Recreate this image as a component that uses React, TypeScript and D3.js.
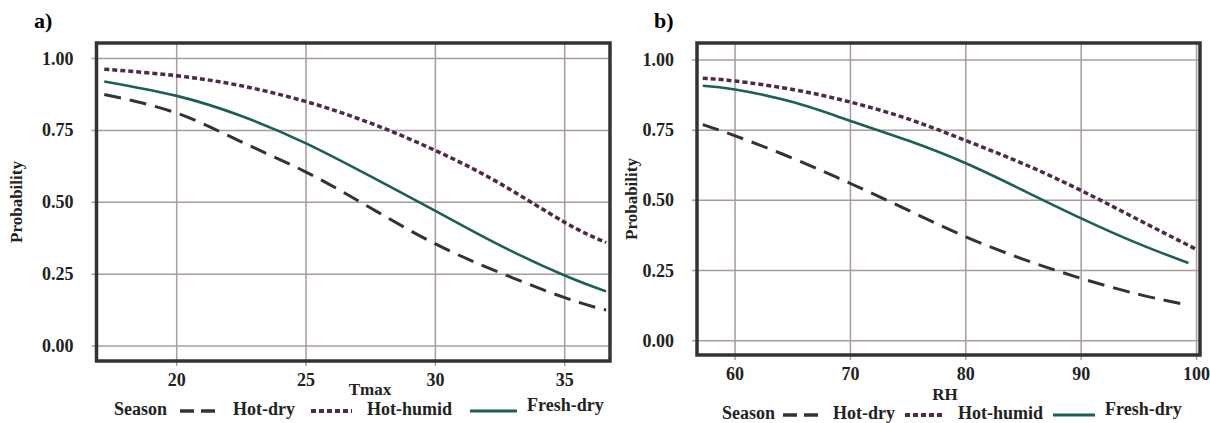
import React from 'react';
import * as d3 from 'd3';

// panel a: probability vs Tmax
const tmaxX = [17.2, 20, 22.5, 25, 27.5, 30, 32.5, 35, 36.6];
const tmaxHotDry = [0.875, 0.81, 0.71, 0.605, 0.48, 0.355, 0.255, 0.168, 0.125];
const tmaxHotHumid = [0.963, 0.94, 0.905, 0.85, 0.775, 0.68, 0.565, 0.43, 0.36];
const tmaxFreshDry = [0.92, 0.87, 0.8, 0.705, 0.59, 0.47, 0.35, 0.245, 0.19];
const tmaxTicks = [20, 25, 30, 35];

// panel b: probability vs RH
const rhX = [57.2, 60, 65, 70, 75, 80, 85, 90, 95, 99.3];
const rhHotDry = [0.77, 0.73, 0.65, 0.56, 0.465, 0.37, 0.29, 0.222, 0.165, 0.127];
const rhHotHumidX = [57.2, 60, 65, 70, 75, 80, 85, 90, 95, 100];
const rhHotHumid = [0.935, 0.925, 0.895, 0.85, 0.79, 0.713, 0.63, 0.535, 0.43, 0.325];
const rhFreshDry = [0.908, 0.895, 0.85, 0.783, 0.713, 0.632, 0.535, 0.436, 0.345, 0.277];
const rhTicks = [60, 70, 80, 90, 100];

const probTicks = [0, 0.25, 0.5, 0.75, 1];
const seasons = ['Hot-dry', 'Hot-humid', 'Fresh-dry'];

const FONT = '"Liberation Serif", "Times New Roman", serif';
const styles: Record<string, { stroke: string; width: number; dash: string }> = {
  'Hot-dry': { stroke: '#333333', width: 3, dash: '17 9' },
  'Hot-humid': { stroke: '#4e2a48', width: 3.5, dash: '5 3' },
  'Fresh-dry': { stroke: '#1b5f57', width: 2.6, dash: '' },
};

type Series = { name: string; xs: number[]; ys: number[] };

type PanelProps = {
  tag: string;
  xLabel: string;
  xDomain: [number, number];
  xRange: [number, number];
  yRange: [number, number];
  frame: { top: number; bottom: number };
  xTicks: number[];
  series: Series[];
  tickBase: number;
  xLabelPos: [number, number];
  yLabelX: number;
  tagPos: [number, number];
  legend: { y: number; season: number; items: [number, number, number][] };
};

function Panel(p: PanelProps) {
  const x = d3.scaleLinear().domain(p.xDomain).range(p.xRange);
  const y = d3.scaleLinear().domain([0, 1]).range(p.yRange);
  const [left, right] = p.xRange;
  const { top, bottom } = p.frame;
  const grid = '#a99c9c';
  const mkLine = (xs: number[]) =>
    d3
      .line<number>()
      .x((_, i) => x(xs[i]))
      .y(d => y(d))
      .curve(d3.curveNatural);

  return (
    <g>
      <text x={p.tagPos[0]} y={p.tagPos[1]} fontFamily={FONT} fontWeight="bold" fontSize={22}>
        {p.tag}
      </text>
      {probTicks.map(t => (
        <g key={'y' + t}>
          <line x1={left - 5} x2={right} y1={y(t)} y2={y(t)} stroke={grid} strokeWidth={1.5} />
          <text
            x={left - 23}
            y={y(t) + 6}
            textAnchor="end"
            fontFamily={FONT}
            fontWeight="bold"
            fontSize={18}
            fill="#222"
          >
            {t.toFixed(2)}
          </text>
        </g>
      ))}
      {p.xTicks.map(t => (
        <g key={'x' + t}>
          <line x1={x(t)} x2={x(t)} y1={top} y2={bottom + 5} stroke={grid} strokeWidth={1.5} />
          <text
            x={x(t)}
            y={p.tickBase}
            textAnchor="middle"
            fontFamily={FONT}
            fontWeight="bold"
            fontSize={18}
            fill="#222"
          >
            {t}
          </text>
        </g>
      ))}
      {p.series.map(s => (
        <path
          key={s.name}
          d={mkLine(s.xs)(s.ys) || ''}
          fill="none"
          stroke={styles[s.name].stroke}
          strokeWidth={styles[s.name].width}
          strokeDasharray={styles[s.name].dash}
        />
      ))}
      <rect
        x={left}
        y={top}
        width={right - left}
        height={bottom - top}
        fill="none"
        stroke="#333"
        strokeWidth={3.5}
      />
      <text
        transform={`translate(${p.yLabelX},${(top + bottom) / 2}) rotate(-90)`}
        textAnchor="middle"
        fontFamily={FONT}
        fontWeight="bold"
        fontSize={17}
        fill="#222"
      >
        Probability
      </text>
      <text
        x={p.xLabelPos[0]}
        y={p.xLabelPos[1]}
        textAnchor="middle"
        fontFamily={FONT}
        fontWeight="bold"
        fontSize={17}
        fill="#222"
      >
        {p.xLabel}
      </text>
      <text x={p.legend.season} y={p.legend.y} fontFamily={FONT} fontWeight="bold" fontSize={18} fill="#222">
        Season
      </text>
      {seasons.map((name, i) => {
        const [x0, x1, tx] = p.legend.items[i];
        const st = styles[name];
        return (
          <g key={name}>
            <line
              x1={x0}
              x2={x1}
              y1={p.legend.y - 4}
              y2={p.legend.y - 4}
              stroke={st.stroke}
              strokeWidth={st.width + 0.5}
              strokeDasharray={name === 'Hot-dry' ? '14 7' : st.dash}
            />
            <text
              x={tx}
              y={p.legend.y - (name === 'Fresh-dry' ? 4 : 0)}
              fontFamily={FONT}
              fontWeight="bold"
              fontSize={18}
              fill="#222"
            >
              {name}
            </text>
          </g>
        );
      })}
    </g>
  );
}

export default function App() {
  return (
    <svg
      width={1210}
      height={423}
      style={{ position: 'absolute', left: 0, top: 0, background: '#fff' }}
    >
      <Panel
        tag="a)"
        xLabel="Tmax"
        xDomain={[16.9, 36.75]}
        xRange={[96.5, 610]}
        yRange={[346, 58.5]}
        frame={{ top: 43, bottom: 361 }}
        xTicks={tmaxTicks}
        series={[
          { name: 'Hot-dry', xs: tmaxX, ys: tmaxHotDry },
          { name: 'Hot-humid', xs: tmaxX, ys: tmaxHotHumid },
          { name: 'Fresh-dry', xs: tmaxX, ys: tmaxFreshDry },
        ]}
        tickBase={386}
        xLabelPos={[370, 395]}
        yLabelX={22}
        tagPos={[34, 28]}
        legend={{
          y: 415,
          season: 114,
          items: [
            [180, 222, 233],
            [311, 352, 367],
            [470, 517, 527],
          ],
        }}
      />
      <Panel
        tag="b)"
        xLabel="RH"
        xDomain={[56.7, 100.3]}
        xRange={[697, 1200]}
        yRange={[340.7, 60]}
        frame={{ top: 43, bottom: 355 }}
        xTicks={rhTicks}
        series={[
          { name: 'Hot-dry', xs: rhX, ys: rhHotDry },
          { name: 'Hot-humid', xs: rhHotHumidX, ys: rhHotHumid },
          { name: 'Fresh-dry', xs: rhX, ys: rhFreshDry },
        ]}
        tickBase={380}
        xLabelPos={[945, 400]}
        yLabelX={637}
        tagPos={[654, 28]}
        legend={{
          y: 419,
          season: 722,
          items: [
            [783, 822, 833],
            [905, 945, 958],
            [1053, 1095, 1105],
          ],
        }}
      />
    </svg>
  );
}
